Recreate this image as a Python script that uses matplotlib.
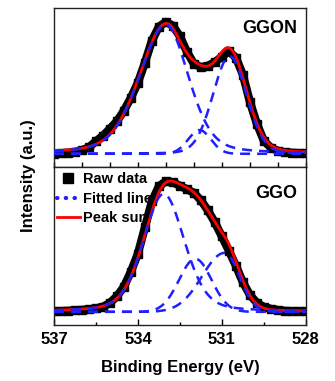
import numpy as np
import matplotlib
matplotlib.use('Agg')
import matplotlib.pyplot as plt
from matplotlib.lines import Line2D
from matplotlib.ticker import MultipleLocator

plt.rcParams['font.family'] = ['Liberation Sans', 'DejaVu Sans']
plt.rcParams['font.weight'] = 'bold'

# binding energy grid of the raw scans (eV)
energy = np.arange(537.0, 527.99, -0.25)

# raw O 1s data, normalised intensity
ggon_raw = [0.0, 0.004, 0.008, 0.015, 0.027, 0.049, 0.095, 0.137, 0.19, 0.247,
            0.327, 0.425, 0.539, 0.691, 0.858, 0.964, 1.0, 0.972, 0.891, 0.774,
            0.683, 0.657, 0.668, 0.695, 0.737, 0.778, 0.729, 0.6, 0.395, 0.228,
            0.099, 0.046, 0.023, 0.011, 0.008, 0.004, 0.004]
ggo_raw = [0.004, 0.006, 0.008, 0.011, 0.015, 0.019, 0.027, 0.038, 0.069, 0.119,
           0.192, 0.307, 0.444, 0.644, 0.843, 0.958, 0.996, 0.988, 0.962, 0.935,
           0.908, 0.851, 0.774, 0.682, 0.575, 0.467, 0.352, 0.226, 0.13, 0.069,
           0.038, 0.023, 0.014, 0.008, 0.005, 0.004, 0.004]

# fitted peaks: centre, height, HWHM low-BE side, HWHM high-BE side, lorentz fraction
ggon_centers = [533.0, 531.8, 530.72]
ggon_heights = [0.98, 0.18, 0.74]
ggon_hw_low = [0.95, 0.48, 0.71]
ggon_hw_high = [1.12, 0.48, 0.71]
ggon_eta = [0.3, 0.0, 0.1]

ggo_centers = [533.08, 531.95, 530.9]
ggo_heights = [0.90, 0.405, 0.45]
ggo_hw_low = [0.88, 0.68, 0.62]
ggo_hw_high = [0.86, 0.68, 0.95]
ggo_eta = [0.3, 0.0, 0.0]

fine = np.linspace(537, 528, 600)


def pseudo_voigt(x, c, h, wl, wh, eta):
    w = np.where(x < c, wl, wh)
    u = (x - c) / w
    return h * (eta / (1 + u ** 2) + (1 - eta) * np.exp(-np.log(2) * u ** 2))


def draw_panel(ax, raw, cen, hei, wl, wh, eta, name, name_y):
    ax.plot(energy, raw, color='black', lw=6, zorder=1.5, solid_joinstyle='round',
            solid_capstyle='butt')
    ax.plot(energy, raw, 's', color='black', ms=5.5, zorder=1.6)
    total = np.zeros_like(fine)
    for i in range(len(cen)):
        comp = pseudo_voigt(fine, cen[i], hei[i], wl[i], wh[i], eta[i])
        total += comp
        ax.plot(fine, comp, color='#1f1fff', lw=1.8, ls=(0, (4, 2.8)), zorder=3)
    ax.plot(fine, total, color='#ff0000', lw=2.0, zorder=2)
    ax.set_xlim(537, 528)
    ax.set_ylim(-0.10, 1.105)
    ax.set_yticks([])
    ax.text(0.965, name_y, name, transform=ax.transAxes, ha='right', va='center',
            fontsize=13, fontweight='bold')
    for s in ax.spines.values():
        s.set_linewidth(1.0)
        s.set_color('#222222')


fig = plt.figure(figsize=(3.35, 3.81), dpi=100)
ax1 = fig.add_axes([0.161, 0.5617, 0.752, 0.417])
ax2 = fig.add_axes([0.161, 0.147, 0.752, 0.4147])

draw_panel(ax1, ggon_raw, ggon_centers, ggon_heights, ggon_hw_low, ggon_hw_high,
           ggon_eta, 'GGON', 0.874)
draw_panel(ax2, ggo_raw, ggo_centers, ggo_heights, ggo_hw_low, ggo_hw_high,
           ggo_eta, 'GGO', 0.835)

ax1.xaxis.set_major_locator(MultipleLocator(1))
ax1.tick_params(axis='x', direction='in', length=3.5, width=1, labelbottom=False)

ax2.set_xticks([537, 534, 531, 528])
ax2.set_xticklabels(['537', '534', '531', '528'], fontweight='bold')
ax2.xaxis.set_minor_locator(MultipleLocator(1.5))
ax2.tick_params(axis='x', which='major', direction='in', length=4, width=1,
                labelsize=12, pad=5)
ax2.tick_params(axis='x', which='minor', direction='in', length=2.5, width=1)
ax2.set_xlabel('Binding Energy (eV)', fontsize=12, fontweight='bold', labelpad=9.5)

fig.text(0.085, 0.54, 'Intensity (a.u.)', rotation=90, ha='center', va='center',
         fontsize=12, fontweight='bold')

handles = [Line2D([], [], ls='none', marker='s', color='black', ms=7),
           Line2D([], [], color='#1f1fff', lw=3, ls=(0, (0.1, 2.0)),
                  dash_capstyle='round'),
           Line2D([], [], color='#ff0000', lw=2.0)]
leg = ax2.legend(handles, ['Raw data', 'Fitted line', 'Peak sum'], loc='upper left',
                 bbox_to_anchor=(-0.008, 1.0), frameon=False, fontsize=10.5,
                 handlelength=1.55, handletextpad=0.25, labelspacing=0.38,
                 borderaxespad=0.1, borderpad=0.25)
leg.set_zorder(1)

fig.savefig('out.png', dpi=100)
